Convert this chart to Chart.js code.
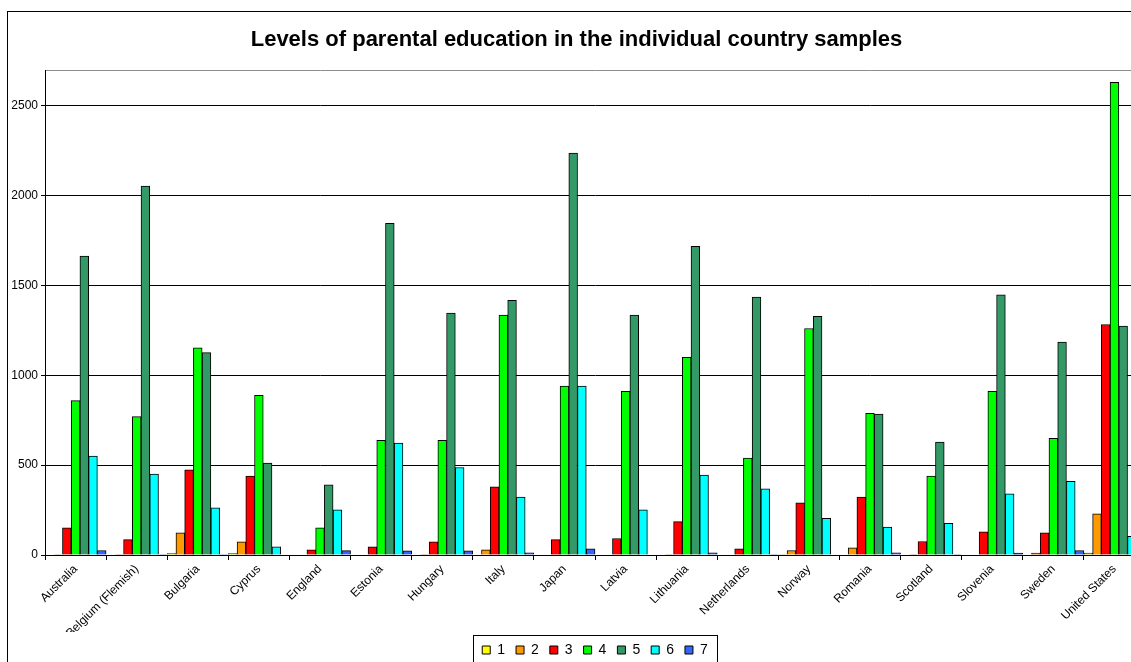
<!DOCTYPE html>
<html>
<head>
<meta charset="utf-8">
<script src="https://cdn.jsdelivr.net/npm/chart.js@4/dist/chart.umd.min.js"></script>
<style>
  html, body { margin: 0; padding: 0; background: #fff; overflow: hidden; width: 1131px; height: 662px; }
  #frame { position: absolute; left: 7px; top: 11px; width: 1160px; height: 700px; border: 1px solid #000; background: #fff; }
  #chart { position: absolute; left: 0; top: 0; }
</style>
</head>
<body>
<div id="frame"><canvas id="chart" width="1140" height="655"></canvas></div>
<script>
// Country samples
const countries = ["Australia", "Belgium (Flemish)", "Bulgaria", "Cyprus", "England", "Estonia",
  "Hungary", "Italy", "Japan", "Latvia", "Lithuania", "Netherlands", "Norway", "Romania",
  "Scotland", "Slovenia", "Sweden", "United States"];

// Number of students per level of parental education (levels 1-7)
const level1 = [0, 0, 8, 8, 0, 0, 0, 0, 0, 0, 0, 0, 3, 0, 0, 0, 0, 10];
const level2 = [3, 3, 123, 73, 0, 0, 3, 29, 0, 0, 3, 0, 25, 40, 3, 0, 10, 229];
const level3 = [151, 86, 474, 440, 29, 46, 73, 380, 86, 92, 186, 34, 291, 323, 75, 129, 123, 1283];
const level4 = [859, 770, 1153, 889, 151, 639, 639, 1335, 941, 911, 1100, 539, 1261, 789, 440, 911, 650, 2632];
const level5 = [1664, 2054, 1127, 512, 391, 1847, 1347, 1418, 2238, 1335, 1719, 1436, 1329, 784, 628, 1449, 1186, 1275];
const level6 = [550, 451, 262, 46, 251, 623, 487, 323, 941, 251, 445, 369, 204, 156, 177, 341, 410, 104];
const level7 = [25, 3, 3, 0, 24, 23, 23, 12, 34, 0, 12, 3, 0, 12, 3, 10, 25, 20];

const levelNames = ["1", "2", "3", "4", "5", "6", "7"];
const levelColors = ["#FFFF00", "#FF9900", "#FF0000", "#00FF00", "#339966", "#00FFFF", "#3366FF"];
const levelData = [level1, level2, level3, level4, level5, level6, level7];

// Value axis: labelled ticks and the top of the plot area
const yTicks = [0, 500, 1000, 1500, 2000, 2500];
const yMax = 2700;

const FONT = "'Liberation Sans', Arial, sans-serif";

// Frame around the legend entries
const legendFrame = {
  id: 'legendFrame',
  afterDraw(chart) {
    const lg = chart.legend;
    if (!lg || !lg.legendHitBoxes || !lg.legendHitBoxes.length) return;
    const hb = lg.legendHitBoxes;
    const first = hb[0], last = hb[hb.length - 1];
    const left = Math.round(first.left - 9) + 0.5;
    const right = Math.round(last.left + last.width + 9) + 0.5;
    const top = Math.round(lg.top + 3) + 0.5;
    const ctx = chart.ctx;
    ctx.save();
    ctx.strokeStyle = '#000';
    ctx.lineWidth = 1;
    ctx.strokeRect(left, top, right - left, chart.height + 20 - top);
    ctx.restore();
  }
};

new Chart(document.getElementById('chart'), {
  type: 'bar',
  data: {
    labels: countries,
    datasets: levelData.map((d, i) => ({
      label: levelNames[i],
      data: d,
      backgroundColor: levelColors[i],
      borderColor: '#000',
      borderWidth: 1,
      borderSkipped: 'start',
      categoryPercentage: 1,
      barPercentage: 1
    }))
  },
  options: {
    responsive: false,
    animation: false,
    events: [],
    layout: { padding: { left: 0, right: 3, top: 0, bottom: 0 } },
    plugins: {
      title: {
        display: true,
        text: 'Levels of parental education in the individual country samples',
        color: '#000',
        font: { family: FONT, size: 22, weight: 'bold' },
        padding: { top: 14.8, bottom: 16.8 }
      },
      legend: {
        position: 'bottom',
        fullSize: false,
        labels: {
          color: '#000',
          font: { family: FONT, size: 14 },
          boxWidth: 8,
          boxHeight: 8,
          padding: 11
        }
      },
      tooltip: { enabled: false }
    },
    scales: {
      x: {
        grid: {
          offset: true,
          drawOnChartArea: false,
          drawTicks: true,
          tickLength: 5,
          color: '#000'
        },
        border: { color: '#000', width: 1 },
        ticks: {
          color: '#000',
          font: { family: FONT, size: 12 },
          autoSkip: false,
          minRotation: 45,
          maxRotation: 45,
          padding: 2
        },
        afterFit(scale) { scale.height = 77; }
      },
      y: {
        min: 0,
        max: yMax,
        afterBuildTicks(scale) {
          scale.ticks = yTicks.concat([yMax]).map(v => ({ value: v }));
        },
        grid: {
          color: ctx => (ctx.tick && ctx.tick.value === yMax) ? '#8c8c8c' : '#000',
          tickColor: ctx => (ctx.tick && ctx.tick.value === yMax) ? 'rgba(0,0,0,0)' : '#000',
          tickLength: 4,
          lineWidth: 1
        },
        border: { color: '#000', width: 1 },
        ticks: {
          color: '#000',
          font: { family: FONT, size: 12 },
          padding: 3,
          callback: v => (yTicks.includes(v) ? String(v) : '')
        },
        afterFit(scale) { scale.width = 37; }
      }
    }
  },
  plugins: [legendFrame]
});
</script>
</body>
</html>
